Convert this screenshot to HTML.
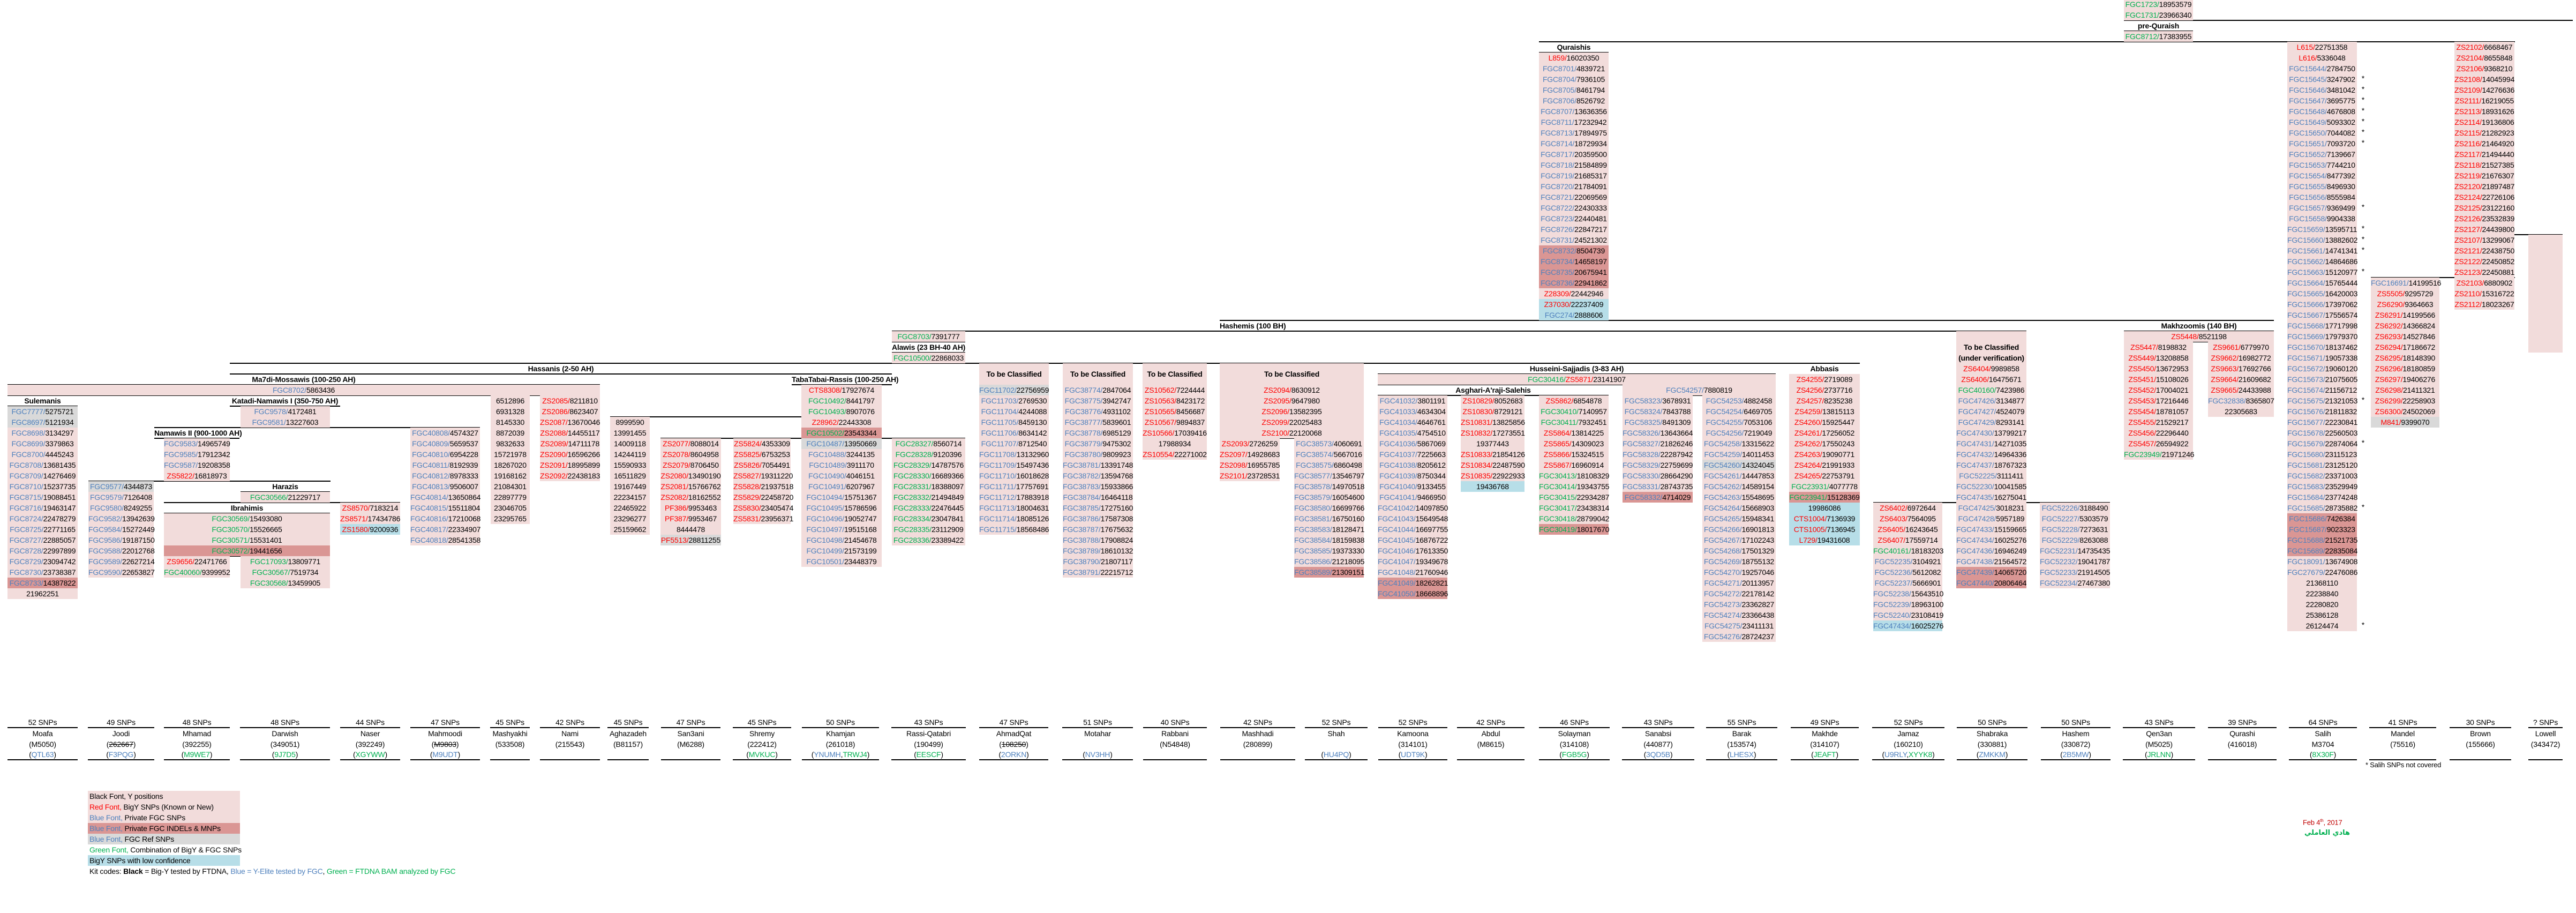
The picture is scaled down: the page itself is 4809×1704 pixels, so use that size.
<!DOCTYPE html>
<html><head><meta charset="utf-8">
<style>
html,body{margin:0;padding:0;background:#fff}
#pg{position:relative;width:4809px;height:1704px;overflow:hidden;background:#fff;font-family:"Liberation Sans Narrow","Liberation Sans",sans-serif;font-size:14px;color:#000;letter-spacing:-0.2px}
.c{position:absolute}
.c p{margin:0;height:20px;line-height:20px;background:#f2dcdb;text-align:center;white-space:nowrap;position:relative}
.c p.d{background:#da9694}
.c p.y{background:#d9d9d9}
.c p.l{background:#b7dee8}
.c p.w{background:transparent}
.c p.h{background:transparent;font-weight:bold}
.c p.hp{font-weight:bold}
b{font-weight:normal;color:#4f81bd}
u{text-decoration:none;color:#ff0000}
em{font-style:normal;color:#00b050}
i{font-style:normal;position:absolute;right:-14px;top:-2px}
.ln{position:absolute;height:2px;background:#000}
.L{position:absolute;top:1340px}
.L p{margin:0;height:20px;line-height:20px;text-align:center;white-space:nowrap}
.L p.a{height:17px;line-height:17px;border-bottom:2px solid #000}
.L p.z{height:18px;line-height:18px;border-bottom:2px solid #000}
.lg{position:absolute;left:164px;top:1476px;width:284px}
.lg p{margin:0;height:20px;line-height:20px;padding-left:3px;white-space:nowrap;background:#f2dcdb}
.lg p.d{background:#da9694}.lg p.y{background:#d9d9d9}.lg p.l{background:#b7dee8}.lg p.w{background:transparent}
.lg strong{font-weight:bold}
</style></head><body><div id="pg">

<!-- lines -->
<div class="ln" style="top:37px;left:3965px;width:838px"></div>
<div class="ln" style="top:57px;left:3965px;width:129px"></div>
<div class="ln" style="top:77px;left:2873px;width:1822px"></div>
<div class="ln" style="top:97px;left:2873px;width:130px"></div>
<div class="ln" style="top:437px;left:4582px;width:202px"></div>
<div class="ln" style="top:517px;left:4426px;width:269px"></div>
<div class="ln" style="top:597px;left:2277px;width:1968px"></div>
<div class="ln" style="top:617px;left:1665px;width:2118px"></div>
<div class="ln" style="top:617px;left:3965px;width:280px"></div>
<div class="ln" style="top:637px;left:1665px;width:137px"></div>
<div class="ln" style="top:637px;left:3965px;width:280px"></div>
<div class="ln" style="top:657px;left:1665px;width:137px"></div>
<div class="ln" style="top:677px;left:429px;width:3043px"></div>
<div class="ln" style="top:677px;left:3652px;width:131px"></div>
<div class="ln" style="top:697px;left:429px;width:1236px"></div>
<div class="ln" style="top:697px;left:2572px;width:743px"></div>
<div class="ln" style="top:717px;left:14px;width:1106px"></div>
<div class="ln" style="top:717px;left:1478px;width:187px"></div>
<div class="ln" style="top:717px;left:1828px;width:130px"></div>
<div class="ln" style="top:717px;left:1984px;width:131px"></div>
<div class="ln" style="top:717px;left:2133px;width:120px"></div>
<div class="ln" style="top:717px;left:2277px;width:269px"></div>
<div class="ln" style="top:717px;left:2572px;width:743px"></div>
<div class="ln" style="top:717px;left:3340px;width:132px"></div>
<div class="ln" style="top:737px;left:14px;width:1106px"></div>
<div class="ln" style="top:737px;left:2572px;width:431px"></div>
<div class="ln" style="top:737px;left:3029px;width:286px"></div>
<div class="ln" style="top:757px;left:14px;width:131px"></div>
<div class="ln" style="top:757px;left:429px;width:206px"></div>
<div class="ln" style="top:777px;left:1139px;width:507px"></div>
<div class="ln" style="top:797px;left:288px;width:608px"></div>
<div class="ln" style="top:817px;left:288px;width:159px"></div>
<div class="ln" style="top:817px;left:1233px;width:569px"></div>
<div class="ln" style="top:817px;left:2277px;width:269px"></div>
<div class="ln" style="top:897px;left:165px;width:452px"></div>
<div class="ln" style="top:917px;left:449px;width:167px"></div>
<div class="ln" style="top:937px;left:306px;width:441px"></div>
<div class="ln" style="top:937px;left:3497px;width:442px"></div>
<div class="ln" style="top:957px;left:306px;width:310px"></div>
<div class="ln" style="top:1037px;left:306px;width:310px"></div>

<!-- top right -->
<div class="c" style="left:3965px;top:-2px;width:129px">
<p><em>FGC1723/</em>18953579</p><p><em>FGC1731/</em>23966340</p><p class="h">pre-Quraish</p><p><em>FGC8712/</em>17383955</p></div>

<div class="c" style="left:2873px;top:78px;width:130px">
<p class="h">Quraishis</p>
<p><u>L859/</u>16020350</p><p><b>FGC8701/</b>4839721</p><p><b>FGC8704/</b>7936105</p><p><b>FGC8705/</b>8461794</p><p><b>FGC8706/</b>8526792</p><p><b>FGC8707/</b>13636356</p><p><b>FGC8711/</b>17232942</p><p><b>FGC8713/</b>17894975</p><p><b>FGC8714/</b>18729934</p><p><b>FGC8717/</b>20359500</p><p><b>FGC8718/</b>21584899</p><p><b>FGC8719/</b>21685317</p><p><b>FGC8720/</b>21784091</p><p><b>FGC8721/</b>22069569</p><p><b>FGC8722/</b>22430333</p><p><b>FGC8723/</b>22440481</p><p><b>FGC8726/</b>22847217</p><p><b>FGC8731/</b>24521302</p><p class="d"><b>FGC8732/</b>8504739</p><p class="d"><b>FGC8734/</b>14658197</p><p class="d"><b>FGC8735/</b>20675941</p><p class="d"><b>FGC8736/</b>22941862</p><p><u>Z28309/</u>22442946</p><p class="l"><u>Z37030/</u>22237409</p><p class="l"><b>FGC274/</b>2888606</p></div>

<div class="c" style="left:4270px;top:78px;width:130px">
<p><u>L615/</u>22751358</p><p><u>L616/</u>5336048</p><p><b>FGC15644/</b>2784750</p><p><b>FGC15645/</b>3247902<i>*</i></p><p><b>FGC15646/</b>3481042<i>*</i></p><p><b>FGC15647/</b>3695775<i>*</i></p><p><b>FGC15648/</b>4676808<i>*</i></p><p><b>FGC15649/</b>5093302<i>*</i></p><p><b>FGC15650/</b>7044082<i>*</i></p><p><b>FGC15651/</b>7093720<i>*</i></p><p><b>FGC15652/</b>7139667</p><p><b>FGC15653/</b>7744210</p><p><b>FGC15654/</b>8477392</p><p><b>FGC15655/</b>8496930</p><p><b>FGC15656/</b>8555984</p><p><b>FGC15657/</b>9369499<i>*</i></p><p><b>FGC15658/</b>9904338</p><p><b>FGC15659/</b>13595711<i>*</i></p><p><b>FGC15660/</b>13882602<i>*</i></p><p><b>FGC15661/</b>14741341<i>*</i></p><p><b>FGC15662/</b>14864686</p><p><b>FGC15663/</b>15120977<i>*</i></p><p><b>FGC15664/</b>15765444</p><p><b>FGC15665/</b>16420003</p><p><b>FGC15666/</b>17397062</p><p><b>FGC15667/</b>17556574</p><p><b>FGC15668/</b>17717998</p><p><b>FGC15669/</b>17979370</p><p><b>FGC15670/</b>18137462</p><p><b>FGC15671/</b>19057338</p><p><b>FGC15672/</b>19060120</p><p><b>FGC15673/</b>21075605</p><p><b>FGC15674/</b>21156712</p><p><b>FGC15675/</b>21321053<i>*</i></p><p><b>FGC15676/</b>21811832</p><p><b>FGC15677/</b>22230841</p><p><b>FGC15678/</b>22560503</p><p><b>FGC15679/</b>22874064<i>*</i></p><p><b>FGC15680/</b>23115123</p><p><b>FGC15681/</b>23125120</p><p><b>FGC15682/</b>23371003</p><p><b>FGC15683/</b>23529949</p><p><b>FGC15684/</b>23774248</p><p><b>FGC15685/</b>28735882<i>*</i></p><p class="d"><b>FGC15686/</b>7426384</p><p class="d"><b>FGC15687/</b>9023323</p><p class="d"><b>FGC15688/</b>21521735</p><p class="d"><b>FGC15689/</b>22835084</p><p><b>FGC18091/</b>13674908</p><p><b>FGC27679/</b>22476086</p><p>21368110</p><p>22238840</p><p>22280820</p><p>25386128</p><p>26124474<i>*</i></p></div>

<div class="c" style="left:4582px;top:78px;width:112px">
<p><u>ZS2102/</u>6668467</p><p><u>ZS2104/</u>8655848</p><p><u>ZS2106/</u>9368210</p><p><u>ZS2108/</u>14045994</p><p><u>ZS2109/</u>14276636</p><p><u>ZS2111/</u>16219055</p><p><u>ZS2113/</u>18931626</p><p><u>ZS2114/</u>19136806</p><p><u>ZS2115/</u>21282923</p><p><u>ZS2116/</u>21464920</p><p><u>ZS2117/</u>21494440</p><p><u>ZS2118/</u>21527385</p><p><u>ZS2119/</u>21676307</p><p><u>ZS2120/</u>21897487</p><p><u>ZS2124/</u>22726106</p><p><u>ZS2125/</u>23122160</p><p><u>ZS2126/</u>23532839</p><p><u>ZS2127/</u>24439800</p><p><u>ZS2107/</u>13299067</p><p><u>ZS2121/</u>22438750</p><p><u>ZS2122/</u>22450852</p><p><u>ZS2123/</u>22450881</p><p><u>ZS2103/</u>6880902</p><p><u>ZS2110/</u>15316722</p><p><u>ZS2112/</u>18023267</p></div>

<div class="c" style="left:4426px;top:518px;width:128px">
<p><b>FGC16691/</b>14199516</p><p><u>ZS5505/</u>9295729</p><p><u>ZS6290/</u>9364663</p><p><u>ZS6291/</u>14199566</p><p><u>ZS6292/</u>14366824</p><p><u>ZS6293/</u>14527846</p><p><u>ZS6294/</u>17186672</p><p><u>ZS6295/</u>18148390</p><p><u>ZS6296/</u>18180859</p><p><u>ZS6297/</u>19406276</p><p><u>ZS6298/</u>21411321</p><p><u>ZS6299/</u>22258903</p><p><u>ZS6300/</u>24502069</p><p class="y"><u>M841/</u>9399070</p></div>

<div style="position:absolute;left:4720px;top:438px;width:64px;height:220px;background:#f2dcdb"></div>

<!-- Makhzoomis -->
<div class="c" style="left:3965px;top:598px;width:280px"><p class="h">Makhzoomis (140 BH)</p><p><u>ZS5448/</u>8521198</p></div>
<div class="c" style="left:3965px;top:638px;width:129px">
<p><u>ZS5447/</u>8198832</p><p><u>ZS5449/</u>13208858</p><p><u>ZS5450/</u>13672953</p><p><u>ZS5451/</u>15108026</p><p><u>ZS5452/</u>17004021</p><p><u>ZS5453/</u>17216446</p><p><u>ZS5454/</u>18781057</p><p><u>ZS5455/</u>21529217</p><p><u>ZS5456/</u>22296440</p><p><u>ZS5457/</u>26594922</p><p><em>FGC23949/</em>21971246</p></div>
<div class="c" style="left:4122px;top:638px;width:123px">
<p><u>ZS9661/</u>6779970</p><p><u>ZS9662/</u>16982772</p><p><u>ZS9663/</u>17692766</p><p><u>ZS9664/</u>21609682</p><p><u>ZS9665/</u>24433988</p><p><b>FGC32838/</b>8365807</p><p>22305683</p></div>

<div class="c" style="left:2277px;top:598px;width:200px"><p class="h" style="text-align:left">Hashemis (100 BH)</p></div>

<!-- TBC under verification -->
<div class="c" style="left:3652px;top:618px;width:131px">
<p class="hp" style="height:60px;line-height:20px;padding-top:0"><span style="display:block;height:20px"></span>To be Classified<br>(under verification)</p>
<p><u>ZS6404/</u>9989858</p><p><u>ZS6406/</u>16475671</p><p><em>FGC40160/</em>7423986</p><p><b>FGC47426/</b>3134877</p><p><b>FGC47427/</b>4524079</p><p><b>FGC47429/</b>8293141</p><p><b>FGC47430/</b>13799217</p><p><b>FGC47431/</b>14271035</p><p><b>FGC47432/</b>14964336</p><p><b>FGC47437/</b>18767323</p><p><b>FGC52225/</b>3111411</p><p><b>FGC52230/</b>10041585</p><p><b>FGC47435/</b>16275041</p><p><b>FGC47425/</b>3018231</p><p><b>FGC47428/</b>5957189</p><p><b>FGC47433/</b>15159665</p><p><b>FGC47434/</b>16025276</p><p><b>FGC47436/</b>16946249</p><p><b>FGC47438/</b>21564572</p><p class="d"><b>FGC47439/</b>14065720</p><p class="d"><b>FGC47440/</b>20806464</p></div>
<div class="c" style="left:3808px;top:938px;width:131px">
<p><b>FGC52226/</b>3188490</p><p><b>FGC52227/</b>5303579</p><p><b>FGC52228/</b>7273631</p><p><b>FGC52229/</b>8263088</p><p><b>FGC52231/</b>14735435</p><p><b>FGC52232/</b>19041787</p><p><b>FGC52233/</b>21914505</p><p><b>FGC52234/</b>27467380</p></div>
<div class="c" style="left:3497px;top:938px;width:129px">
<p><u>ZS6402/</u>6972644</p><p><u>ZS6403/</u>7564095</p><p><u>ZS6405/</u>16243645</p><p><u>ZS6407/</u>17559714</p><p><em>FGC40161/</em>18183203</p><p><b>FGC52235/</b>3104921</p><p><b>FGC52236/</b>5612082</p><p><b>FGC52237/</b>5666901</p><p><b>FGC52238/</b>15643510</p><p><b>FGC52239/</b>18963100</p><p><b>FGC52240/</b>23108419</p><p class="l"><b>FGC47434/</b>16025276</p></div>

<!-- Abbasis -->
<div class="c" style="left:3340px;top:678px;width:132px">
<p class="h">Abbasis</p><p><u>ZS4255/</u>2719089</p><p><u>ZS4256/</u>2737716</p><p><u>ZS4257/</u>8235238</p><p><u>ZS4259/</u>13815113</p><p><u>ZS4260/</u>15925447</p><p><u>ZS4261/</u>17256052</p><p><u>ZS4262/</u>17550243</p><p><u>ZS4263/</u>19090771</p><p><u>ZS4264/</u>21991933</p><p><u>ZS4265/</u>22753791</p><p><em>FGC23931/</em>4077778</p><p class="d"><em>FGC23941/</em>15128369</p><p class="l">19986086</p><p class="l"><u>CTS1004/</u>7136939</p><p class="l"><u>CTS1005/</u>7136945</p><p class="l"><u>L729/</u>19431608</p></div>

<!-- Husseini -->
<div class="c" style="left:2572px;top:678px;width:743px"><p class="h">Husseini-Sajjadis (3-83 AH)</p><p><em>FGC30416/</em><u>ZS5871/</u>23141907</p></div>
<div class="c" style="left:2572px;top:718px;width:431px"><p class="h">Asghari-A'raji-Salehis</p></div>
<div class="c" style="left:3029px;top:718px;width:286px"><p><b>FGC54257/</b>7880819</p></div>
<div class="c" style="left:2572px;top:738px;width:130px">
<p><b>FGC41032/</b>3801191</p><p><b>FGC41033/</b>4634304</p><p><b>FGC41034/</b>4646761</p><p><b>FGC41035/</b>4754510</p><p><b>FGC41036/</b>5867069</p><p><b>FGC41037/</b>7225663</p><p><b>FGC41038/</b>8205612</p><p><b>FGC41039/</b>8750344</p><p><b>FGC41040/</b>9133455</p><p><b>FGC41041/</b>9466950</p><p><b>FGC41042/</b>14097850</p><p><b>FGC41043/</b>15649548</p><p><b>FGC41044/</b>16697755</p><p><b>FGC41045/</b>16876722</p><p><b>FGC41046/</b>17613350</p><p><b>FGC41047/</b>19349678</p><p><b>FGC41048/</b>21760946</p><p class="d"><b>FGC41049/</b>18262821</p><p class="d"><b>FGC41050/</b>18668896</p></div>
<div class="c" style="left:2727px;top:738px;width:119px">
<p><u>ZS10829/</u>8052683</p><p><u>ZS10830/</u>8729121</p><p><u>ZS10831/</u>13825856</p><p><u>ZS10832/</u>17273551</p><p>19377443</p><p><u>ZS10833/</u>21854126</p><p><u>ZS10834/</u>22487590</p><p><u>ZS10835/</u>22922933</p><p class="l">19436768</p></div>
<div class="c" style="left:2873px;top:738px;width:130px">
<p><u>ZS5862/</u>6854878</p><p><em>FGC30410/</em>7140957</p><p><em>FGC30411/</em>7932451</p><p><u>ZS5864/</u>13814225</p><p><u>ZS5865/</u>14309023</p><p><u>ZS5866/</u>15324515</p><p><u>ZS5867/</u>16960914</p><p><em>FGC30413/</em>18108329</p><p><em>FGC30414/</em>19343755</p><p><em>FGC30415/</em>22934287</p><p><em>FGC30417/</em>23438314</p><p><em>FGC30418/</em>28799042</p><p class="d"><em>FGC30419/</em>18017670</p></div>
<div class="c" style="left:3029px;top:738px;width:131px">
<p><b>FGC58323/</b>3678931</p><p><b>FGC58324/</b>7843788</p><p><b>FGC58325/</b>8491309</p><p><b>FGC58326/</b>13643664</p><p><b>FGC58327/</b>21826246</p><p><b>FGC58328/</b>22287942</p><p><b>FGC58329/</b>22759699</p><p><b>FGC58330/</b>28664290</p><p><b>FGC58331/</b>28743735</p><p class="d"><b>FGC58332/</b>4714029</p></div>
<div class="c" style="left:3178px;top:738px;width:137px">
<p><b>FGC54253/</b>4882458</p><p><b>FGC54254/</b>6469705</p><p><b>FGC54255/</b>7053106</p><p><b>FGC54256/</b>7219049</p><p><b>FGC54258/</b>13315622</p><p><b>FGC54259/</b>14011453</p><p class="y"><b>FGC54260/</b>14324045</p><p><b>FGC54261/</b>14447853</p><p><b>FGC54262/</b>14589154</p><p><b>FGC54263/</b>15548695</p><p><b>FGC54264/</b>15668903</p><p><b>FGC54265/</b>15948341</p><p><b>FGC54266/</b>16901813</p><p><b>FGC54267/</b>17102243</p><p><b>FGC54268/</b>17501329</p><p><b>FGC54269/</b>18755132</p><p><b>FGC54270/</b>19257046</p><p><b>FGC54271/</b>20113957</p><p><b>FGC54272/</b>22178142</p><p><b>FGC54273/</b>23362827</p><p><b>FGC54274/</b>23366438</p><p><b>FGC54275/</b>23411131</p><p><b>FGC54276/</b>28724237</p></div>

<!-- TBC 4 -->
<div class="c" style="left:2277px;top:678px;width:269px">
<p class="hp" style="height:40px;line-height:40px">To be Classified</p>
<p><u>ZS2094/</u>8630912</p><p><u>ZS2095/</u>9647980</p><p><u>ZS2096/</u>13582395</p><p><u>ZS2099/</u>22025483</p><p><u>ZS2100/</u>22120068</p></div>
<div class="c" style="left:2277px;top:818px;width:112px">
<p><u>ZS2093/</u>2726259</p><p><u>ZS2097/</u>14928683</p><p><u>ZS2098/</u>16955785</p><p><u>ZS2101/</u>23728531</p></div>
<div class="c" style="left:2416px;top:818px;width:130px">
<p><b>FGC38573/</b>4060691</p><p><b>FGC38574/</b>5667016</p><p><b>FGC38575/</b>6860498</p><p><b>FGC38577/</b>13546797</p><p><b>FGC38578/</b>14970518</p><p><b>FGC38579/</b>16054600</p><p><b>FGC38580/</b>16699766</p><p><b>FGC38581/</b>16750160</p><p><b>FGC38583/</b>18128471</p><p><b>FGC38584/</b>18159838</p><p><b>FGC38585/</b>19373330</p><p><b>FGC38586/</b>21218095</p><p class="d"><b>FGC38589/</b>21309151</p></div>

<!-- TBC 3 -->
<div class="c" style="left:2133px;top:678px;width:120px">
<p class="hp" style="height:40px;line-height:40px">To be Classified</p>
<p><u>ZS10562/</u>7224444</p><p><u>ZS10563/</u>8423172</p><p><u>ZS10565/</u>8456687</p><p><u>ZS10567/</u>9894837</p><p><u>ZS10566/</u>17039416</p><p>17988934</p><p><u>ZS10554/</u>22271002</p></div>
<!-- TBC 2 -->
<div class="c" style="left:1984px;top:678px;width:131px">
<p class="hp" style="height:40px;line-height:40px">To be Classified</p>
<p><b>FGC38774/</b>2847064</p><p><b>FGC38775/</b>3942747</p><p><b>FGC38776/</b>4931102</p><p><b>FGC38777/</b>5839601</p><p><b>FGC38778/</b>6985129</p><p><b>FGC38779/</b>9475302</p><p><b>FGC38780/</b>9809923</p><p><b>FGC38781/</b>13391748</p><p><b>FGC38782/</b>13594768</p><p><b>FGC38783/</b>15933866</p><p><b>FGC38784/</b>16464118</p><p><b>FGC38785/</b>17275160</p><p><b>FGC38786/</b>17587308</p><p><b>FGC38787/</b>17675632</p><p><b>FGC38788/</b>17908824</p><p><b>FGC38789/</b>18610132</p><p><b>FGC38790/</b>21807117</p><p><b>FGC38791/</b>22215712</p></div>
<!-- TBC 1 -->
<div class="c" style="left:1828px;top:678px;width:130px">
<p class="hp" style="height:40px;line-height:40px">To be Classified</p>
<p class="y"><b>FGC11702/</b>22756959</p><p><b>FGC11703/</b>2769530</p><p><b>FGC11704/</b>4244088</p><p><b>FGC11705/</b>8459130</p><p><b>FGC11706/</b>8634142</p><p><b>FGC11707/</b>8712540</p><p><b>FGC11708/</b>13132960</p><p><b>FGC11709/</b>15497436</p><p><b>FGC11710/</b>16018628</p><p><b>FGC11711/</b>17757691</p><p><b>FGC11712/</b>17883918</p><p><b>FGC11713/</b>18004631</p><p><b>FGC11714/</b>18085126</p><p><b>FGC11715/</b>18568486</p></div>

<!-- Alawis -->
<div class="c" style="left:1665px;top:618px;width:137px">
<p><em>FGC8703/</em>7391777</p><p class="h">Alawis (23 BH-40 AH)</p><p><em>FGC10500/</em>22868033</p></div>
<div class="c" style="left:1665px;top:818px;width:137px">
<p><em>FGC28327/</em>8560714</p><p><em>FGC28328/</em>9120396</p><p><em>FGC28329/</em>14787576</p><p><em>FGC28330/</em>16689366</p><p><em>FGC28331/</em>18388097</p><p><em>FGC28332/</em>21494849</p><p><em>FGC28333/</em>22476445</p><p><em>FGC28334/</em>23047841</p><p><em>FGC28335/</em>23112909</p><p><em>FGC28336/</em>23389422</p></div>

<!-- Hassanis -->
<div class="c" style="left:429px;top:678px;width:1236px"><p class="h">Hassanis (2-50 AH)</p></div>
<div class="c" style="left:14px;top:698px;width:1106px"><p class="h">Ma7di-Mossawis (100-250 AH)</p><p><b>FGC8702/</b>5863436</p></div>
<div class="c" style="left:1478px;top:698px;width:187px"><p class="h">TabaTabai-Rassis (100-250 AH)</p></div>
<div class="c" style="left:1496px;top:718px;width:150px">
<p><u>CTS8308/</u>17927674</p><p><em>FGC10492/</em>8441797</p><p><em>FGC10493/</em>8907076</p><p><u>Z28962/</u>22443308</p><p class="d"><em>FGC10502/</em>23543344</p><p class="y"><b>FGC10487/</b>13950669</p><p><b>FGC10488/</b>3244135</p><p><b>FGC10489/</b>3911170</p><p><b>FGC10490/</b>4046151</p><p><b>FGC10491/</b>6207967</p><p><b>FGC10494/</b>15751367</p><p><b>FGC10495/</b>15786596</p><p><b>FGC10496/</b>19052747</p><p><b>FGC10497/</b>19515168</p><p><b>FGC10498/</b>21454678</p><p><b>FGC10499/</b>21573199</p><p><b>FGC10501/</b>23448379</p></div>
<div class="c" style="left:1369px;top:818px;width:107px">
<p><u>ZS5824/</u>4353309</p><p><u>ZS5825/</u>6753253</p><p><u>ZS5826/</u>7054491</p><p><u>ZS5827/</u>19311220</p><p><u>ZS5828/</u>21937518</p><p><u>ZS5829/</u>22458720</p><p><u>ZS5830/</u>23405474</p><p><u>ZS5831/</u>23956371</p></div>
<div class="c" style="left:1233px;top:818px;width:113px">
<p><u>ZS2077/</u>8088014</p><p><u>ZS2078/</u>8604958</p><p><u>ZS2079/</u>8706450</p><p><u>ZS2080/</u>13490190</p><p><u>ZS2081/</u>15766762</p><p><u>ZS2082/</u>18162552</p><p><u>PF386/</u>9953463</p><p><u>PF387/</u>9953467</p><p>8444478</p><p class="y"><u>PF5513/</u>28811255</p></div>
<div class="c" style="left:1139px;top:778px;width:74px">
<p>8999590</p><p>13991455</p><p>14009118</p><p>14244119</p><p>15590933</p><p>16511829</p><p>19167449</p><p>22234157</p><p>22465922</p><p>23296277</p><p>25159662</p></div>
<div class="c" style="left:1008px;top:738px;width:112px">
<p><u>ZS2085/</u>8211810</p><p><u>ZS2086/</u>8623407</p><p><u>ZS2087/</u>13670046</p><p><u>ZS2088/</u>14455117</p><p><u>ZS2089/</u>14711178</p><p><u>ZS2090/</u>16596266</p><p><u>ZS2091/</u>18995899</p><p><u>ZS2092/</u>22438183</p></div>
<div class="c" style="left:916px;top:738px;width:73px">
<p>6512896</p><p>6931328</p><p>8145330</p><p>8872039</p><p>9832633</p><p>15721978</p><p>18267020</p><p>19168162</p><p>21084301</p><p>22897779</p><p>23046705</p><p>23295765</p></div>
<div class="c" style="left:766px;top:798px;width:130px">
<p><b>FGC40808/</b>4574327</p><p><b>FGC40809/</b>5659537</p><p><b>FGC40810/</b>6954228</p><p><b>FGC40811/</b>8192939</p><p><b>FGC40812/</b>8978333</p><p><b>FGC40813/</b>9506007</p><p><b>FGC40814/</b>13650864</p><p><b>FGC40815/</b>15511804</p><p><b>FGC40816/</b>17210068</p><p><b>FGC40817/</b>22334907</p><p><b>FGC40818/</b>28541358</p></div>

<!-- Sulemanis -->
<div class="c" style="left:14px;top:738px;width:131px">
<p class="h">Sulemanis</p><p class="y"><b>FGC7777/</b>5275721</p><p class="y"><b>FGC8697/</b>5121934</p><p><b>FGC8698/</b>3134297</p><p><b>FGC8699/</b>3379863</p><p><b>FGC8700/</b>4445243</p><p><b>FGC8708/</b>13681435</p><p><b>FGC8709/</b>14276469</p><p><b>FGC8710/</b>15237735</p><p><b>FGC8715/</b>19088451</p><p><b>FGC8716/</b>19463147</p><p><b>FGC8724/</b>22478279</p><p><b>FGC8725/</b>22771165</p><p><b>FGC8727/</b>22885057</p><p><b>FGC8728/</b>22997899</p><p><b>FGC8729/</b>23094742</p><p><b>FGC8730/</b>23738387</p><p class="d"><b>FGC8733/</b>14387822</p><p>21962251</p></div>
<div class="c" style="left:429px;top:738px;width:206px"><p class="h">Katadi-Namawis I (350-750 AH)</p></div>
<div class="c" style="left:449px;top:758px;width:167px"><p><b>FGC9578/</b>4172481</p><p><b>FGC9581/</b>13227603</p></div>
<div class="c" style="left:288px;top:798px;width:159px"><p class="h">Namawis II (900-1000 AH)</p></div>
<div class="c" style="left:306px;top:818px;width:123px">
<p><b>FGC9583/</b>14965749</p><p><b>FGC9585/</b>17912342</p><p><b>FGC9587/</b>19208358</p><p><u>ZS5822/</u>16818973</p></div>
<div class="c" style="left:165px;top:898px;width:122px">
<p class="y"><b>FGC9577/</b>4344873</p><p><b>FGC9579/</b>7126408</p><p><b>FGC9580/</b>8249255</p><p><b>FGC9582/</b>13942639</p><p><b>FGC9584/</b>15272449</p><p><b>FGC9586/</b>19187150</p><p><b>FGC9588/</b>22012768</p><p><b>FGC9589/</b>22627214</p><p><b>FGC9590/</b>22653827</p></div>
<div class="c" style="left:449px;top:898px;width:167px"><p class="h">Harazis</p><p><em>FGC30566/</em>21229717</p></div>
<div class="c" style="left:306px;top:938px;width:310px">
<p class="h">Ibrahimis</p><p><em>FGC30569/</em>15493080</p><p><em>FGC30570/</em>15526665</p><p><em>FGC30571/</em>15531401</p><p class="d"><em>FGC30572/</em>19441656</p></div>
<div class="c" style="left:306px;top:1038px;width:123px"><p><u>ZS9656/</u>22471766</p><p><em>FGC40060/</em>9399952</p></div>
<div class="c" style="left:449px;top:1038px;width:167px"><p><em>FGC17093/</em>13809771</p><p><em>FGC30567/</em>7519734</p><p><em>FGC30568/</em>13459905</p></div>
<div class="c" style="left:635px;top:938px;width:112px"><p><u>ZS8570/</u>7183214</p><p><u>ZS8571/</u>17434786</p><p class="l"><u>ZS1580/</u>9200936</p></div>

<!-- bottom labels -->
<div class="L" style="left:14px;width:131px"><p class="a">52 SNPs</p><p>Moafa</p><p>(M5050)</p><p class="z">(<b>QTL63</b>)</p></div>
<div class="L" style="left:164px;width:124px"><p class="a">49 SNPs</p><p>Joodi</p><p>(<s>262667</s>)</p><p class="z">(<b>F3PQG</b>)</p></div>
<div class="L" style="left:306px;width:123px"><p class="a">48 SNPs</p><p>Mhamad</p><p>(392255)</p><p class="z">(<em>M9WE7</em>)</p></div>
<div class="L" style="left:448px;width:168px"><p class="a">48 SNPs</p><p>Darwish</p><p>(349051)</p><p class="z">(<em>9J7D5</em>)</p></div>
<div class="L" style="left:635px;width:112px"><p class="a">44 SNPs</p><p>Naser</p><p>(392249)</p><p class="z">(<em>XGYWW</em>)</p></div>
<div class="L" style="left:766px;width:130px"><p class="a">47 SNPs</p><p>Mahmoodi</p><p>(<s>M9803</s>)</p><p class="z">(<b>M9UDT</b>)</p></div>
<div class="L" style="left:915px;width:74px"><p class="a">45 SNPs</p><p>Mashyakhi</p><p>(533508)</p><p class="z"></p></div>
<div class="L" style="left:1008px;width:112px"><p class="a">42 SNPs</p><p>Nami</p><p>(215543)</p><p class="z"></p></div>
<div class="L" style="left:1134px;width:77px"><p class="a">45 SNPs</p><p>Aghazadeh</p><p>(B81157)</p><p class="z"></p></div>
<div class="L" style="left:1234px;width:111px"><p class="a">47 SNPs</p><p>San3ani</p><p>(M6288)</p><p class="z"></p></div>
<div class="L" style="left:1368px;width:109px"><p class="a">45 SNPs</p><p>Shremy</p><p>(222412)</p><p class="z">(<em>MVKUC</em>)</p></div>
<div class="L" style="left:1497px;width:144px"><p class="a">50 SNPs</p><p>Khamjan</p><p>(261018)</p><p class="z">(<b>YNUMH</b>,<em>TRWJ4</em>)</p></div>
<div class="L" style="left:1664px;width:139px"><p class="a">43 SNPs</p><p>Rassi-Qatabri</p><p>(190499)</p><p class="z">(<em>EESCF</em>)</p></div>
<div class="L" style="left:1828px;width:129px"><p class="a">47 SNPs</p><p>AhmadQat</p><p>(<s>108250</s>)</p><p class="z">(<b>2ORKN</b>)</p></div>
<div class="L" style="left:1983px;width:132px"><p class="a">51 SNPs</p><p>Motahar</p><p></p><p class="z">(<b>NV3HH</b>)</p></div>
<div class="L" style="left:2134px;width:119px"><p class="a">40 SNPs</p><p>Rabbani</p><p>(N54848)</p><p class="z"></p></div>
<div class="L" style="left:2278px;width:140px"><p class="a">42 SNPs</p><p>Mashhadi</p><p>(280899)</p><p class="z"></p></div>
<div class="L" style="left:2436px;width:117px"><p class="a">52 SNPs</p><p>Shah</p><p></p><p class="z">(<b>HU4PQ</b>)</p></div>
<div class="L" style="left:2573px;width:129px"><p class="a">52 SNPs</p><p>Kamoona</p><p>(314101)</p><p class="z">(<b>UDT9K</b>)</p></div>
<div class="L" style="left:2720px;width:126px"><p class="a">42 SNPs</p><p>Abdul</p><p>(M8615)</p><p class="z"></p></div>
<div class="L" style="left:2873px;width:132px"><p class="a">46 SNPs</p><p>Solayman</p><p>(314108)</p><p class="z">(<em>FGB5G</em>)</p></div>
<div class="L" style="left:3028px;width:135px"><p class="a">43 SNPs</p><p>Sanabsi</p><p>(440877)</p><p class="z">(<b>3QD5B</b>)</p></div>
<div class="L" style="left:3185px;width:133px"><p class="a">55 SNPs</p><p>Barak</p><p>(153574)</p><p class="z">(<b>LHESX</b>)</p></div>
<div class="L" style="left:3343px;width:127px"><p class="a">49 SNPs</p><p>Makhde</p><p>(314107)</p><p class="z">(<em>JEAFT</em>)</p></div>
<div class="L" style="left:3495px;width:135px"><p class="a">52 SNPs</p><p>Jamaz</p><p>(160210)</p><p class="z">(<b>U9RLY</b>,<em>XYYK8</em>)</p></div>
<div class="L" style="left:3653px;width:132px"><p class="a">50 SNPs</p><p>Shabraka</p><p>(330881)</p><p class="z">(<b>ZMKKM</b>)</p></div>
<div class="L" style="left:3810px;width:130px"><p class="a">50 SNPs</p><p>Hashem</p><p>(330872)</p><p class="z">(<b>2B5MW</b>)</p></div>
<div class="L" style="left:3963px;width:135px"><p class="a">43 SNPs</p><p>Qen3an</p><p>(M5025)</p><p class="z">(<em>JRLNN</em>)</p></div>
<div class="L" style="left:4122px;width:128px"><p class="a">39 SNPs</p><p>Qurashi</p><p>(416018)</p><p class="z"></p></div>
<div class="L" style="left:4273px;width:127px"><p class="a">64 SNPs</p><p>Salih</p><p>M3704</p><p class="z">(<em>8X30F</em>)</p></div>
<div class="L" style="left:4423px;width:125px"><p class="a">41 SNPs</p><p>Mandel</p><p>(75516)</p><p class="z"></p></div>
<div class="L" style="left:4573px;width:115px"><p class="a">30 SNPs</p><p>Brown</p><p>(155666)</p><p class="z"></p></div>
<div class="L" style="left:4720px;width:64px"><p class="a">? SNPs</p><p>Lowell</p><p>(343472)</p><p class="z"></p></div>

<div style="position:absolute;left:4416px;top:1420px;font-family:'Liberation Sans',sans-serif;font-size:13px;white-space:nowrap">* Salih SNPs not covered</div>
<div style="position:absolute;left:4299px;top:1527px;font-family:'Liberation Sans',sans-serif;font-size:13px;color:#c00000;white-space:nowrap">Feb 4<sup style="font-size:8px">th</sup>, 2017</div>
<div style="position:absolute;left:4302px;top:1547px;font-family:'DejaVu Sans',sans-serif;font-size:13px;font-weight:bold;color:#00b050;white-space:nowrap" dir="rtl">هادي العاملي</div>

<!-- legend -->
<div class="lg">
<p>Black Font, Y positions</p>
<p><u>Red Font,</u> BigY SNPs (Known or New)</p>
<p><b>Blue Font,</b> Private FGC SNPs</p>
<p class="d"><b>Blue Font,</b> Private FGC INDELs &amp; MNPs</p>
<p class="y"><b>Blue Font,</b> FGC Ref SNPs</p>
<p class="w"><em>Green Font,</em> Combination of BigY &amp; FGC SNPs</p>
<p class="l">BigY SNPs with low confidence</p>
<p class="w">Kit codes: <strong>Black</strong> = Big-Y tested by FTDNA, <b>Blue = Y-Elite tested by FGC</b>, <em>Green = FTDNA BAM analyzed by FGC</em></p>
</div>

</div></body></html>
